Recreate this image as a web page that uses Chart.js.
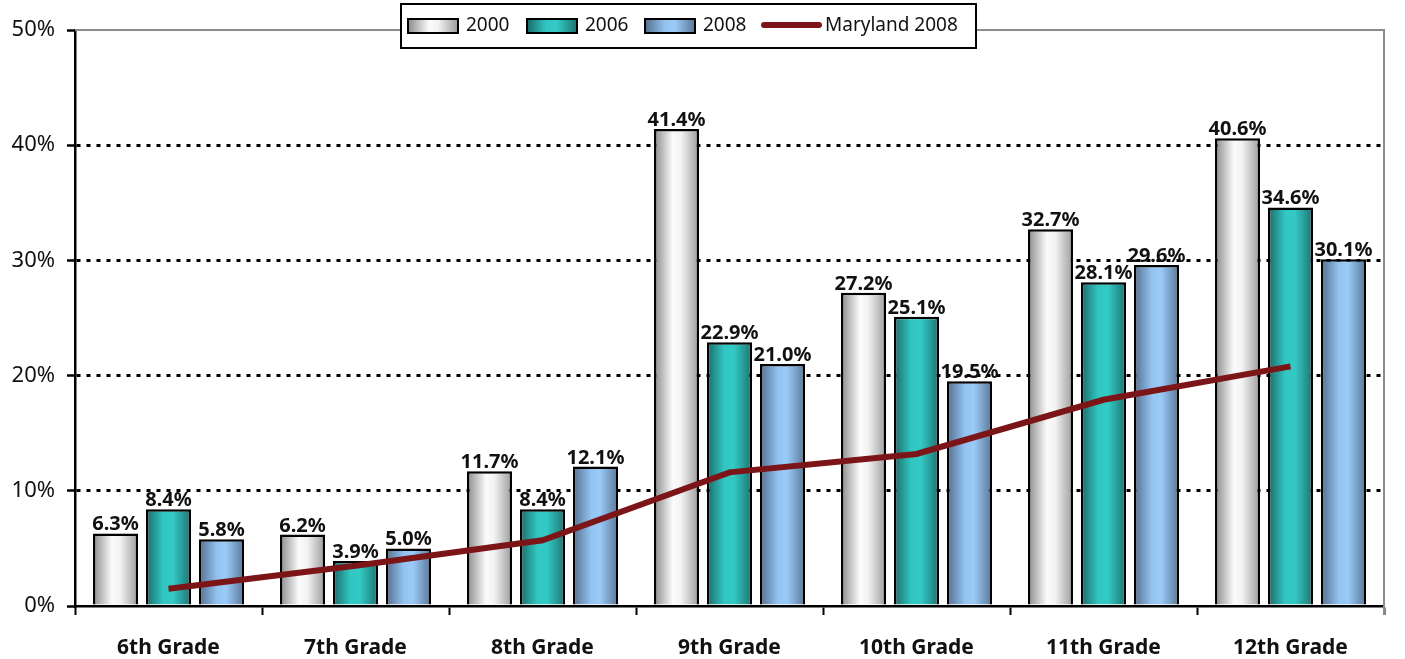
<!DOCTYPE html>
<html lang="en">
<head>
    <meta charset="UTF-8">
    <meta name="viewport" content="width=device-width, initial-scale=1.0">
    <title>Grade Chart</title>
    <style>
        body {
            margin: 0;
            background-color: white;
        }

        #chart-container {
            width: 1405px;
            height: 659px;
        }
    </style>
    <script src="https://cdn.jsdelivr.net/npm/chart.js"></script>
</head>
<body>
    <div id="chart-container">
        <canvas id="gradeChart" width="1405" height="659"></canvas>
    </div>
    <script>
        const grades = ['6th Grade', '7th Grade', '8th Grade', '9th Grade', '10th Grade', '11th Grade', '12th Grade'];
        const values2000 = [6.3, 6.2, 11.7, 41.4, 27.2, 32.7, 40.6];
        const values2006 = [8.4, 3.9, 8.4, 22.9, 25.1, 28.1, 34.6];
        const values2008 = [5.8, 5.0, 12.1, 21.0, 19.5, 29.6, 30.1];
        const maryland2008 = [1.5, 3.5, 5.7, 11.6, 13.2, 17.9, 20.8];

        const FONT = '"Noto Sans", Arial, sans-serif';

        // colour stops for the cylinder-ish bar shading (left edge -> centre -> right edge)
        const barStops = {
            '2000': [[0, '#8a8a8a'], [0.42, '#fbfbfb'], [0.6, '#f3f3f3'], [1, '#9c9c9c']],
            '2006': [[0, '#1a6a68'], [0.38, '#31c6c1'], [0.6, '#33c9c4'], [1, '#1d7371']],
            '2008': [[0, '#546e8d'], [0.4, '#93c3f1'], [0.6, '#9acaf8'], [1, '#5a7797']]
        };

        function makeGradient(ctx, x0, x1, stops) {
            const g = ctx.createLinearGradient(x0, 0, x1, 0);
            stops.forEach(s => g.addColorStop(s[0], s[1]));
            return g;
        }

        // gives every bar its own horizontal gradient, based on where it ended up
        const barShading = {
            id: 'barShading',
            beforeDatasetsDraw(chart) {
                const ctx = chart.ctx;
                chart.data.datasets.forEach((ds, i) => {
                    if (ds.type === 'line') return;
                    const meta = chart.getDatasetMeta(i);
                    meta.data.forEach(bar => {
                        const left = bar.x - bar.width / 2;
                        const right = bar.x + bar.width / 2;
                        bar.options = Object.assign({}, bar.options, {
                            backgroundColor: makeGradient(ctx, left, right, barStops[ds.label])
                        });
                    });
                });
            }
        };

        const barLabels = {
            id: 'barLabels',
            afterDatasetsDraw(chart) {
                const ctx = chart.ctx;
                ctx.save();
                ctx.font = 'bold 20px ' + FONT;
                ctx.fillStyle = '#111';
                ctx.textAlign = 'center';
                ctx.textBaseline = 'alphabetic';
                chart.data.datasets.forEach((ds, i) => {
                    if (ds.type === 'line') return;
                    const meta = chart.getDatasetMeta(i);
                    meta.data.forEach((bar, j) => {
                        ctx.fillText(ds.data[j].toFixed(1) + '%', bar.x, bar.y - 3);
                    });
                });
                ctx.restore();
            }
        };

        // grey top and right frame plus the boxed legend
        const frameAndLegend = {
            id: 'frameAndLegend',
            afterDraw(chart) {
                const ctx = chart.ctx;
                const area = chart.chartArea;
                ctx.save();
                ctx.strokeStyle = '#8c8c8c';
                ctx.lineWidth = 2;
                ctx.beginPath();
                ctx.moveTo(area.left, area.top);
                ctx.lineTo(area.right, area.top);
                ctx.lineTo(area.right, area.bottom + 9);
                ctx.stroke();

                // legend box
                ctx.fillStyle = 'white';
                ctx.fillRect(401, 4, 575, 44);
                ctx.strokeStyle = 'black';
                ctx.lineWidth = 2;
                ctx.strokeRect(401, 4, 575, 44);

                ctx.font = '19px ' + FONT;
                ctx.textBaseline = 'middle';
                ctx.textAlign = 'left';
                const items = [
                    { label: chart.data.datasets[0].label, x: 408 },
                    { label: chart.data.datasets[1].label, x: 527 },
                    { label: chart.data.datasets[2].label, x: 645 }
                ];
                items.forEach(it => {
                    ctx.fillStyle = makeGradient(ctx, it.x, it.x + 50, barStops[it.label]);
                    ctx.fillRect(it.x, 19, 50, 14);
                    ctx.strokeStyle = 'black';
                    ctx.lineWidth = 2;
                    ctx.strokeRect(it.x, 19, 50, 14);
                    ctx.fillStyle = '#111';
                    ctx.fillText(it.label, it.x + 58, 26);
                });

                const line = chart.data.datasets[3];
                ctx.strokeStyle = line.borderColor;
                ctx.lineWidth = 6;
                ctx.lineCap = 'round';
                ctx.beginPath();
                ctx.moveTo(764, 25);
                ctx.lineTo(819, 25);
                ctx.stroke();
                ctx.fillStyle = '#111';
                ctx.fillText(line.label, 825, 26);
                ctx.restore();
            }
        };

        const ctx = document.getElementById('gradeChart').getContext('2d');
        new Chart(ctx, {
            type: 'bar',
            data: {
                labels: grades,
                datasets: [
                    {
                        label: '2000',
                        data: values2000,
                        backgroundColor: () => '#dddddd',
                        borderColor: 'black',
                        borderWidth: 2.5,
                        order: 1
                    },
                    {
                        label: '2006',
                        data: values2006,
                        backgroundColor: () => '#33c9c4',
                        borderColor: 'black',
                        borderWidth: 2.5,
                        order: 1
                    },
                    {
                        label: '2008',
                        data: values2008,
                        backgroundColor: () => '#99c9f8',
                        borderColor: 'black',
                        borderWidth: 2.5,
                        order: 1
                    },
                    {
                        type: 'line',
                        label: 'Maryland 2008',
                        data: maryland2008,
                        borderColor: '#7c1517',
                        borderWidth: 6,
                        pointRadius: 0,
                        tension: 0,
                        fill: false,
                        order: 0
                    }
                ]
            },
            options: {
                responsive: false,
                animation: false,
                maintainAspectRatio: false,
                categoryPercentage: 0.85,
                barPercentage: 0.85,
                layout: {
                    padding: { top: 30, right: 21, left: 0, bottom: 0 }
                },
                scales: {
                    x: {
                        afterFit: scale => { scale.height = 53; },
                        grid: {
                            drawOnChartArea: false,
                            drawTicks: true,
                            tickLength: 9,
                            tickColor: 'black',
                            tickWidth: 2
                        },
                        border: { color: 'black', width: 2.5 },
                        ticks: {
                            color: '#111',
                            padding: 20,
                            maxRotation: 0,
                            minRotation: 0,
                            autoSkip: false,
                            font: { family: FONT, size: 21, weight: 'bold' }
                        }
                    },
                    y: {
                        min: 0,
                        max: 50,
                        afterFit: scale => { scale.width = 75; },
                        ticks: {
                            stepSize: 10,
                            color: '#111',
                            padding: 12,
                            font: { family: FONT, size: 22 },
                            callback: v => v + '%'
                        },
                        grid: {
                            color: c => (c.tick && (c.tick.value === 0 || c.tick.value === 50)) ? 'rgba(0,0,0,0)' : 'black',
                            lineWidth: 3,
                            tickLength: 8,
                            tickColor: 'black',
                            tickWidth: 2.5
                        },
                        border: { color: 'black', width: 2.5, dash: [4, 6] }
                    }
                },
                plugins: {
                    legend: { display: false },
                    tooltip: { enabled: false }
                }
            },
            plugins: [barShading, barLabels, frameAndLegend]
        });
    </script>
</body>
</html>
